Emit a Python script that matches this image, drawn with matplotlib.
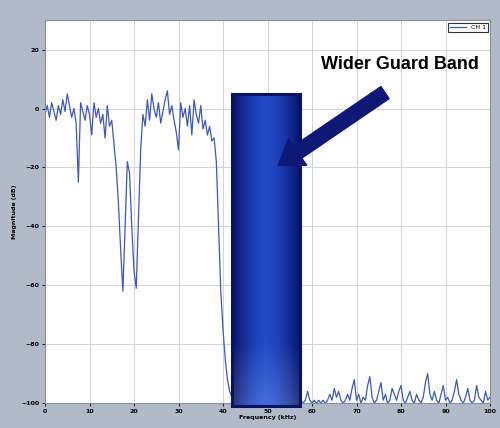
import numpy as np
import matplotlib
matplotlib.use("Agg")
import matplotlib.pyplot as plt
import matplotlib.patches as patches

mag_passband_a = [-2, 1, -3, 2, -1, -4, 1, -2, 3, -1,
                  5, 1, -3, 0, -5, -25, 2, -1, -4, 1,
                  -2, -9, 2, -3, 0, -5, -2, -10, 1, -6]
mag_notches = [-4, -12, -20, -32, -48, -62, -40, -18, -22, -40,
               -55, -61, -38, -14, -2]
mag_passband_b = [-6, 3, -4, 5, 0, -3, 2, -5, -1, 3,
                  6, -2, 1, -4, -8, -14, 2, -3, 0, -6,
                  1, -9, 3, -2, -5, 1, -7, -4, -9, -6, -11]
mag_rolloff = [-10, -18, -40, -62, -75, -85, -92, -96, -98]
mag_guard = [-99, -98, -99, -97, -99, -100, -98, -99, -97, -99,
             -98, -100, -99, -97, -99, -98, -99, -100, -98, -99,
             -97, -99, -98, -99, -100, -99, -98, -99, -97, -99]
mag_stopband = [-99, -100, -99, -96, -99, -100, -99, -100, -99, -100,
                -99, -100, -99, -97, -99, -95, -98, -96, -99, -100,
                -99, -97, -99, -95, -92, -99, -97, -100, -98, -99,
                -94, -91, -98, -100, -99, -96, -93, -99, -97, -100,
                -99, -95, -97, -99, -96, -94, -99, -100, -98, -96,
                -99, -100, -97, -99, -100, -98, -93, -90, -97, -99,
                -96, -99, -100, -97, -94, -99, -98, -100, -99, -96,
                -92, -97, -99, -100, -98, -95, -99, -100, -99, -94,
                -98, -99, -100, -96, -99, -98]

magnitude = mag_passband_a + mag_notches + mag_passband_b + mag_rolloff + mag_guard + mag_stopband
freq = np.arange(len(magnitude)) * 0.5

x_ticks = [0, 10, 20, 30, 40, 50, 60, 70, 80, 90, 100]
y_ticks = [20, 0, -20, -40, -60, -80, -100]

# Guard band box and arrow (data coordinates)
guard_x = (42, 57.3)
guard_top = 5
arrow_tail = (76.4, 5.4)
arrow_head = (52.4, -19.3)

fig = plt.figure(figsize=(5, 4.28), dpi=100, facecolor="#b1bac9")
ax = fig.add_axes([0.09, 0.058, 0.89, 0.895])
ax.set_facecolor("white")

ax.plot(freq, magnitude, color="#3a58c0", linewidth=0.9, label="CH 1", zorder=2)

ax.set_xlim(0, 100)
ax.set_ylim(-100, 30)
ax.set_xticks(x_ticks)
ax.set_yticks(y_ticks)
ax.tick_params(labelsize=4.5, length=2, width=0.6, pad=2)
for lbl in ax.get_xticklabels() + ax.get_yticklabels():
    lbl.set_fontweight("bold")
ax.grid(True, color="#cfd3da", linewidth=0.7)
for s in ax.spines.values():
    s.set_color("#8a909a")
    s.set_linewidth(0.8)
ax.set_xlabel("Frequency (kHz)", fontsize=4.5, fontweight="bold", labelpad=1)
ax.set_ylabel("Magnitude (dB)", fontsize=4.5, fontweight="bold", labelpad=3)

# gradient-filled guard band box
nx, ny = 60, 60
u = np.linspace(-1, 1, nx)
v = np.linspace(0, 1, ny)[:, None]
bright = 1 - np.abs(u) ** 1.6
img = np.zeros((ny, nx, 3))
img[..., 0] = 0.03 + 0.10 * bright
img[..., 1] = 0.07 + 0.22 * bright
img[..., 2] = 0.40 + 0.38 * bright
haze = np.clip((0.2 - v) / 0.2, 0, 1) * 0.3
img = np.clip(img + haze[..., None] * np.array([0.45, 0.45, 0.25]), 0, 1)
ax.imshow(img, extent=(guard_x[0], guard_x[1], -101, guard_top), origin="lower",
          aspect="auto", interpolation="bicubic", zorder=3, clip_on=False)
ax.add_patch(patches.Rectangle((guard_x[0], -101), guard_x[1] - guard_x[0], guard_top + 101,
                               facecolor="none", edgecolor="#091264", linewidth=2.2,
                               zorder=4, clip_on=False))
ax.set_xlim(0, 100)
ax.set_ylim(-100, 30)

ax.annotate("", xy=arrow_head, xytext=arrow_tail,
            arrowprops=dict(arrowstyle="simple,head_width=2.3,head_length=1.7,tail_width=1.05",
                            mutation_scale=10, color="#0e1877", shrinkA=0, shrinkB=0),
            zorder=5)
ax.text(62, 15, "Wider Guard Band", fontsize=13, fontweight="bold", va="center",
        family="Liberation Sans", color="black", zorder=6)

leg = ax.legend(loc="upper right", fontsize=4.5, frameon=True, fancybox=False,
                handlelength=2.5, borderpad=0.3, borderaxespad=0.4)
leg.get_frame().set_edgecolor("black")
leg.get_frame().set_linewidth(0.8)

fig.savefig("out.png", dpi=100, facecolor=fig.get_facecolor())
